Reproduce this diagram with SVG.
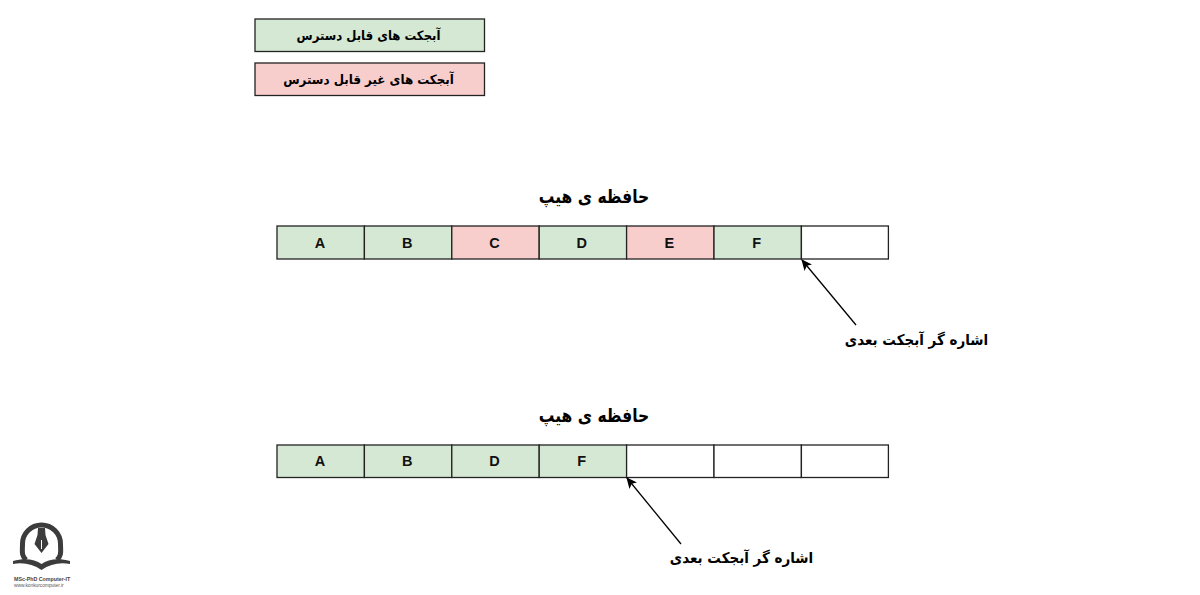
<svg xmlns="http://www.w3.org/2000/svg" width="1200" height="595" viewBox="0 0 1200 595">
<style>
.g{fill:#d5e8d4}.r{fill:#f8cecc}.w{fill:#fff}
rect{stroke:#222;stroke-width:1.3}
.l{font-family:"Liberation Sans",Arial,sans-serif;font-weight:700;font-size:14.5px;fill:#111;text-anchor:middle}
.fa{font-family:"DejaVu Sans","Noto Sans",sans-serif;font-weight:700;fill:#000;text-anchor:middle;direction:rtl}
.c{stroke:#000;stroke-width:1.3;fill:none}
</style>
<defs><marker id="a" markerWidth="12" markerHeight="10" refX="10" refY="5" orient="auto" markerUnits="userSpaceOnUse"><path d="M0 0L11 5L0 10L2.5 5Z" fill="#000"/></marker></defs>
<rect width="1200" height="595" style="fill:#fff;stroke:none"/>
<g id="legend-reachable"><rect class="g" x="255" y="19" width="229.500" height="32.500"/><text class="fa" transform="translate(368.500 39.500) scale(.9 1)" font-size="13">آبجکت های قابل دسترس</text></g>
<g id="legend-unreachable"><rect class="r" x="255" y="63" width="229.500" height="32.500"/><text class="fa" transform="translate(368.500 83.500) scale(.915 1)" font-size="13">آبجکت های غیر قابل دسترس</text></g>
<g id="title-1"><text class="fa" transform="translate(594 203) scale(.82 1)" font-size="19">حافظه ی هیپ</text></g>
<g id="heap-1">
<g id="h1-a"><rect class="g" x="277" y="226" width="87.400" height="33"/><text class="l" x="320" y="247.500">A</text></g>
<g id="h1-b"><rect class="g" x="364.400" y="226" width="87.400" height="33"/><text class="l" x="407.300" y="247.500">B</text></g>
<g id="h1-c"><rect class="r" x="451.800" y="226" width="87.400" height="33"/><text class="l" x="494.500" y="247.500">C</text></g>
<g id="h1-d"><rect class="g" x="539.200" y="226" width="87.400" height="33"/><text class="l" x="581.800" y="247.500">D</text></g>
<g id="h1-e"><rect class="r" x="626.600" y="226" width="87.400" height="33"/><text class="l" x="669.300" y="247.500">E</text></g>
<g id="h1-f"><rect class="g" x="714" y="226" width="87.400" height="33"/><text class="l" x="756.800" y="247.500">F</text></g>
<g id="h1-empty"><rect class="w" x="801.400" y="226" width="87" height="33"/></g>
</g>
<g id="title-2"><text class="fa" transform="translate(594 422) scale(.82 1)" font-size="19">حافظه ی هیپ</text></g>
<g id="heap-2">
<g id="h2-a"><rect class="g" x="277" y="445" width="87.400" height="32.500"/><text class="l" x="320" y="466">A</text></g>
<g id="h2-b"><rect class="g" x="364.400" y="445" width="87.400" height="32.500"/><text class="l" x="407.300" y="466">B</text></g>
<g id="h2-d"><rect class="g" x="451.800" y="445" width="87.400" height="32.500"/><text class="l" x="494.500" y="466">D</text></g>
<g id="h2-f"><rect class="g" x="539.200" y="445" width="87.400" height="32.500"/><text class="l" x="581.800" y="466">F</text></g>
<g id="h2-e1"><rect class="w" x="626.600" y="445" width="87.400" height="32.500"/></g>
<g id="h2-e2"><rect class="w" x="714" y="445" width="87.400" height="32.500"/></g>
<g id="h2-e3"><rect class="w" x="801.400" y="445" width="87" height="32.500"/></g>
</g>
<g id="connectors">
<path class="c" marker-end="url(#a)" d="M856 325L802 260"/>
<path class="c" marker-end="url(#a)" d="M681 544L627 478"/>
</g>
<g id="label-1"><text class="fa" transform="translate(916.500 345) scale(.9 1)" font-size="15">اشاره گر آبجکت بعدی</text></g>
<g id="label-2"><text class="fa" transform="translate(741.500 563) scale(.9 1)" font-size="15">اشاره گر آبجکت بعدی</text></g>
<g id="logo">
<path d="M26 560C21 555 22.500 551 22.500 544A19 19 0 0 1 60.500 544C60.500 551 62 555 57 560" fill="none" stroke="#3c3c3c" stroke-width="5"/>
<path d="M38 528H45L45.500 535L48.500 544L41.500 553L34.500 544L37.500 535Z" fill="#3c3c3c"/>
<path d="M41.500 540V549" stroke="#fff" stroke-width="1"/>
<path d="M13 561C24 558 35 559 41.500 564C48 559 59 558 70 561L70 564C60 562 50 564 41.500 570C33 564 23 562 13 564Z" fill="#3c3c3c"/>
<text x="14" y="581" font-family="Liberation Sans,sans-serif" font-size="5.300" font-weight="700" fill="#444">MSc-PhD Computer-IT</text>
<text x="14" y="586.500" font-family="Liberation Sans,sans-serif" font-size="4.800" fill="#555">www.konkurcomputer.ir</text>
</g>
</svg>
